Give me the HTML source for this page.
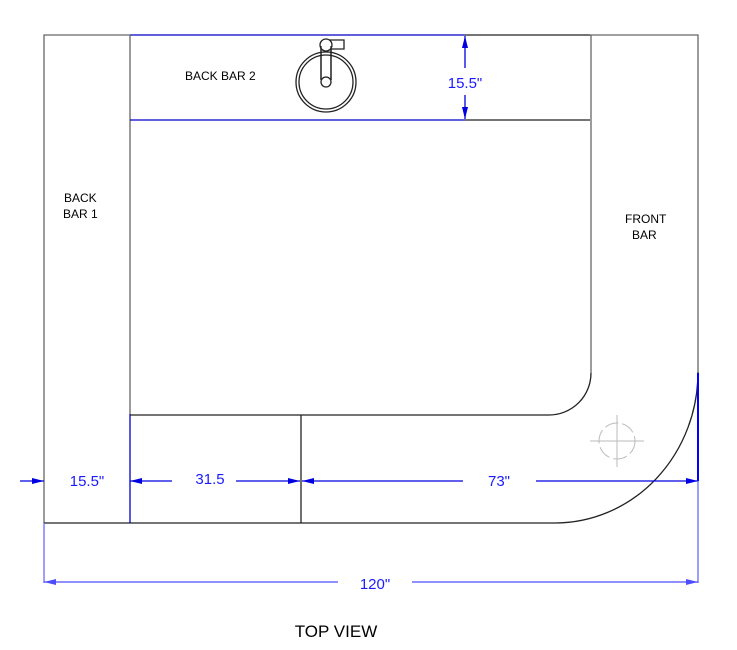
<!DOCTYPE html>
<html><head><meta charset="utf-8"><style>html,body{margin:0;padding:0;background:#fff}svg{display:block}</style></head>
<body>
<svg width="737" height="650" viewBox="0 0 737 650" xmlns="http://www.w3.org/2000/svg" font-family="Liberation Sans, sans-serif">
<g fill="none" stroke-width="1.3">
<path d="M130,35 H44 V523" stroke="#666"/>
<path d="M44,523 H555" stroke="#222"/>
<path d="M555,523 A143,151 0 0 0 698,372" stroke="#222"/>
<path d="M698,372 V35 H590" stroke="#666"/>
<path d="M130,35 H465" stroke="#0000c8"/>
<path d="M465,35 H590" stroke="#222"/>
<path d="M130,35 V414" stroke="#666"/>
<path d="M130,414 V523" stroke="#0000c8"/>
<path d="M130,120 H465" stroke="#0000c8"/>
<path d="M465,120 H590" stroke="#222"/>
<path d="M591,35 V373" stroke="#666"/>
<path d="M591,373 A42,42 0 0 1 549,415 H130" stroke="#222"/>
<path d="M301,415 V523" stroke="#222"/>
<path d="M465,36 V68 M465,95 V119" stroke="#0000e0"/>
<path d="M20,481 H44 M130,481 H172 M236,481 H300 M302,481 H463 M536,481 H698" stroke="#0000e0"/>
<path d="M44,523 V583" stroke="#6a6aff"/>
<path d="M698,373 V481" stroke="#0000ff" stroke-width="2"/>
<path d="M698,481 V583" stroke="#6a6aff"/>
<path d="M44,582 H338 M412,582 H698" stroke="#4d4dff"/>
<g stroke="#bbb" stroke-width="1">
<circle cx="617" cy="441" r="18" stroke-dasharray="14,4"/>
<path d="M590,441 H644 M617,415 V467"/>
</g>
<circle cx="326" cy="82" r="30" stroke="#222"/>
<circle cx="326" cy="82" r="27" stroke="#222"/>
<path d="M326,40 H344 V49 H326" stroke="#222" fill="#fff"/>
<path d="M321,46 V80 M331,46 V80" stroke="#222"/>
<circle cx="326" cy="45" r="6" stroke="#222" fill="#fff"/>
<path d="M321,46 V80 M331,46 V80" stroke="#222"/>
<circle cx="326" cy="82" r="5" fill="#fff" stroke="#222"/>
</g>
<g fill="#0000e0">
<path d="M465,36 l-3,12 h6z M465,119 l-3,-12 h6z"/>
<path d="M44,481 l-12,-3 v6z M130,481 l12,-3 v6z M300,481 l-12,-3 v6z M302,481 l12,-3 v6z M698,481 l-12,-3 v6z"/>
<path d="M44,582 l12,-3 v6z M698,582 l-12,-3 v6z" fill="#4d4dff"/>
</g>
<g font-size="12" fill="#000" xml:space="preserve">
<text x="185" y="80">BACK BAR  2</text>
<text x="64" y="202">BACK</text>
<text x="63" y="218">BAR  1</text>
<text x="625" y="223">FRONT</text>
<text x="632" y="239">BAR</text>
</g>
<g font-size="15" fill="#1a1aff" text-anchor="middle">
<text x="465" y="88">15.5"</text>
<text x="87" y="486">15.5"</text>
<text x="210" y="484">31.5</text>
<text x="499" y="486">73"</text>
<text x="375" y="589">120"</text>
</g>
<text x="336" y="637" font-size="17" text-anchor="middle" fill="#000">TOP VIEW</text>
</svg>
</body></html>
